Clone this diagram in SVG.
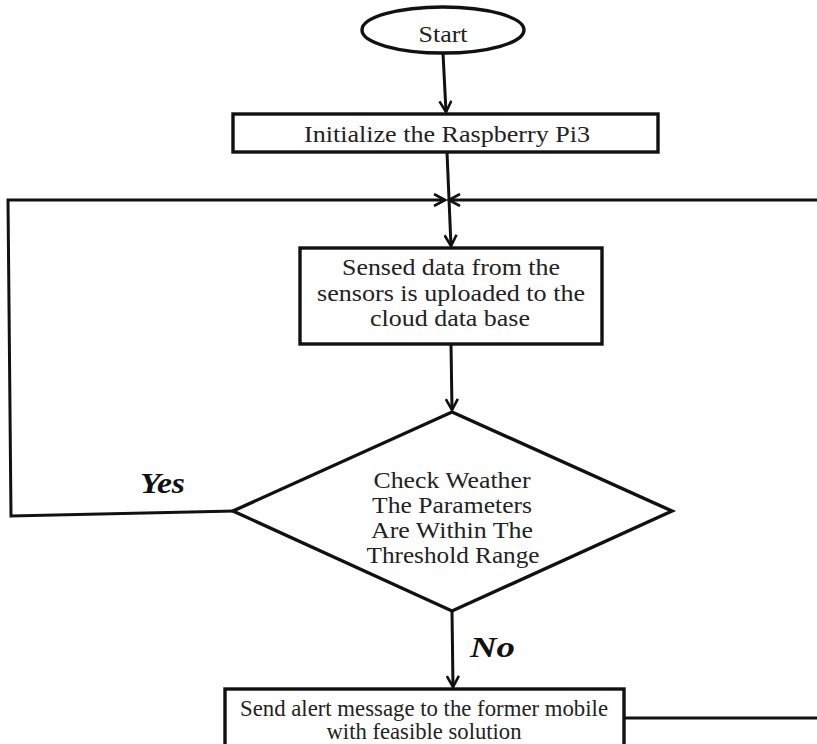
<svg xmlns="http://www.w3.org/2000/svg" width="817" height="744" viewBox="0 0 817 744">
  <defs>
    <marker id="arrow" viewBox="0 0 14 14" refX="12" refY="7" markerWidth="14" markerHeight="14" markerUnits="userSpaceOnUse" orient="auto">
      <path d="M1,1 L12,7 L1,13" fill="none" stroke="#111" stroke-width="2.6"/>
    </marker>
  </defs>
  <style>
    .shape { fill: #fff; stroke: #111; stroke-width: 3.4; }
    .line { fill: none; stroke: #111; stroke-width: 3; }
    .txt { font-family: "Liberation Serif", "Times New Roman", serif; font-size: 23px; fill: #222; text-anchor: middle; }
    .lbl { font-family: "Liberation Serif", "Times New Roman", serif; font-size: 30px; font-weight: bold; font-style: italic; fill: #111; }
  </style>
  <rect width="817" height="744" fill="#fff"/>

  <!-- connectors -->
  <g id="connectors">
    <line class="line" x1="443" y1="53" x2="446" y2="112" marker-end="url(#arrow)"/>
    <line class="line" x1="447" y1="152" x2="451" y2="246" marker-end="url(#arrow)"/>
    <line class="line" x1="451" y1="344" x2="452" y2="410" marker-end="url(#arrow)"/>
    <line class="line" x1="452" y1="611" x2="453" y2="687" marker-end="url(#arrow)"/>
    <!-- Yes loop back to the upload step -->
    <polyline class="line" points="235,511 11,516 8,200 445,200" marker-end="url(#arrow)"/>
    <!-- alert loop back to the upload step -->
    <polyline class="line" points="624,718 817,718"/>
    <polyline class="line" points="817,200 449,200" marker-end="url(#arrow)"/>
  </g>

  <g id="start">
    <ellipse class="shape" cx="443" cy="30" rx="81" ry="23"/>
    <text class="txt" x="443" y="42" textLength="49" lengthAdjust="spacingAndGlyphs">Start</text>
  </g>

  <g id="init">
    <rect class="shape" x="233" y="114" width="425" height="38"/>
    <text class="txt" x="447" y="142" textLength="286" lengthAdjust="spacingAndGlyphs">Initialize the Raspberry Pi3</text>
  </g>

  <g id="upload">
    <rect class="shape" x="300" y="248" width="302" height="96"/>
    <text class="txt" x="451" y="275" textLength="218" lengthAdjust="spacingAndGlyphs">Sensed data from the</text>
    <text class="txt" x="451" y="301" textLength="268" lengthAdjust="spacingAndGlyphs">sensors is uploaded to the</text>
    <text class="txt" x="450" y="326" textLength="160" lengthAdjust="spacingAndGlyphs">cloud data base</text>
  </g>

  <g id="check">
    <polygon class="shape" points="452,412 672,511 452,611 233,511"/>
    <text class="txt" x="452" y="488" textLength="157" lengthAdjust="spacingAndGlyphs">Check Weather</text>
    <text class="txt" x="452" y="513" textLength="160" lengthAdjust="spacingAndGlyphs">The Parameters</text>
    <text class="txt" x="452" y="538" textLength="162" lengthAdjust="spacingAndGlyphs">Are Within The</text>
    <text class="txt" x="453" y="563" textLength="173" lengthAdjust="spacingAndGlyphs">Threshold Range</text>
  </g>

  <g id="alert">
    <rect class="shape" x="225" y="689" width="399" height="62"/>
    <text class="txt" x="424" y="716" textLength="368" lengthAdjust="spacingAndGlyphs">Send alert message to the former mobile</text>
    <text class="txt" x="424" y="739" textLength="195" lengthAdjust="spacingAndGlyphs">with feasible solution</text>
  </g>

  <text class="lbl" x="140" y="493" textLength="45" lengthAdjust="spacingAndGlyphs">Yes</text>
  <text class="lbl" x="470" y="657" textLength="45" lengthAdjust="spacingAndGlyphs">No</text>
</svg>
